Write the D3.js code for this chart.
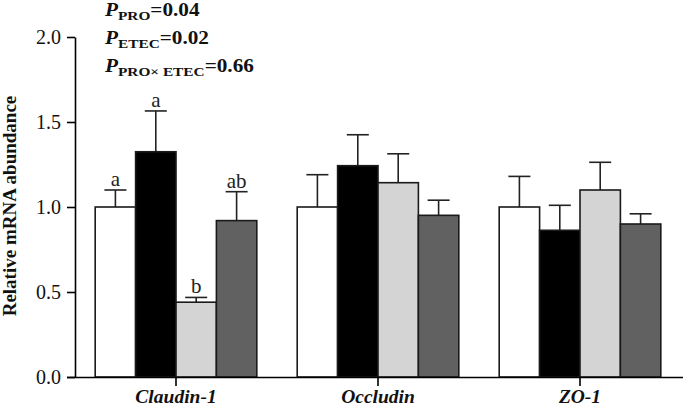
<!DOCTYPE html>
<html><head><meta charset="utf-8">
<script src="https://cdn.jsdelivr.net/npm/d3@7"></script>
<style>body{margin:0;background:#fff}svg{display:block}text{font-family:"Liberation Serif","Times New Roman",serif}</style>
</head><body><svg id="c" width="685" height="407"></svg>
<script>
const genes = ["Claudin-1","Occludin","ZO-1"];
const groups = ["g1","g2","g3","g4"];
const means = [[1.00,1.325,0.44,0.92],[1.00,1.243,1.143,0.951],[1.00,0.863,1.10,0.90]];
const errTops = [[1.10,1.565,0.468,1.09],[1.19,1.425,1.313,1.04],[1.18,1.01,1.263,0.96]];
const letters = [["a","a","b","ab"],["","","",""],["","","",""]];
const yTicks = [0,0.5,1.0,1.5,2.0];
const pLines = [["PRO","=0.04"],["ETEC","=0.02"],["PRO× ETEC","=0.66"]];
const fills = ["#ffffff","#000000","#d4d4d4","#616161"];

const svg = d3.select("#c");
const x0 = d3.scaleBand().domain(genes).range([75,681]).paddingInner(0).paddingOuter(0);
const x1 = d3.scaleBand().domain(groups).range([x0.bandwidth()*0.1, x0.bandwidth()*0.9]).paddingInner(0).paddingOuter(0);
const y = d3.scaleLinear().domain([0,2]).range([377,37]);

// y axis
const ya = svg.append("g").attr("transform","translate(75,0)")
  .call(d3.axisLeft(y).tickValues(yTicks).tickFormat(d3.format(".1f")).tickSize(8).tickSizeOuter(0));
ya.select(".domain").attr("stroke","#000").attr("stroke-width",1.6);
ya.selectAll(".tick line").attr("stroke-width",1.6);
ya.selectAll(".tick text").attr("font-size",20).attr("fill","#111").attr("x",-14);

// bars
genes.forEach((g,gi)=>{
  const gg = svg.append("g").attr("transform",`translate(${x0(g)},0)`);
  groups.forEach((k,ki)=>{
    const bx = x1(k), bw = x1.bandwidth(), cx = bx+bw/2;
    gg.append("line").attr("x1",cx).attr("x2",cx).attr("y1",y(means[gi][ki])).attr("y2",y(errTops[gi][ki])).attr("stroke","#222").attr("stroke-width",1.6);
    gg.append("line").attr("x1",cx-11).attr("x2",cx+11).attr("y1",y(errTops[gi][ki])).attr("y2",y(errTops[gi][ki])).attr("stroke","#222").attr("stroke-width",1.6);
    gg.append("rect").attr("x",bx).attr("width",bw).attr("y",y(means[gi][ki])).attr("height",y(0)-y(means[gi][ki]))
      .attr("fill",fills[ki]).attr("stroke","#1a1a1a").attr("stroke-width",1.6);
    if(letters[gi][ki]) gg.append("text").attr("x",cx).attr("y",y(errTops[gi][ki])-4).attr("text-anchor","middle")
      .attr("font-size",21).attr("fill","#222").text(letters[gi][ki]);
  });
});

// x axis
const xa = svg.append("g").attr("transform","translate(0,377)")
  .call(d3.axisBottom(x0).tickSize(9).tickSizeOuter(0));
xa.select(".domain").attr("stroke","#000").attr("stroke-width",1.6).attr("d","M67,0.5H683");
xa.selectAll(".tick line").attr("stroke-width",1.6);
xa.selectAll(".tick text").attr("font-size",19.5).attr("font-weight","bold").attr("font-style","italic").attr("fill","#111").attr("dy",0).attr("y",26);

// y label
svg.append("text").attr("transform","translate(16,206) rotate(-90)").attr("text-anchor","middle")
  .attr("font-size",19).attr("font-weight","bold").attr("fill","#111").text("Relative mRNA abundance");

// P values
const pBase = [16.5,44,72];
const pg = svg.append("g").attr("transform","translate(105,0) scale(1.18,1)");
pLines.forEach((p,i)=>{
  const t = pg.append("text").attr("x",0).attr("y",pBase[i]).attr("font-weight","bold").attr("fill","#111");
  t.append("tspan").attr("font-size",18).attr("font-style","italic").text("P");
  t.append("tspan").attr("font-size",13).attr("dy",4).text(p[0]);
  t.append("tspan").attr("font-size",18).attr("dy",-4).text(p[1]);
});
</script></body></html>
